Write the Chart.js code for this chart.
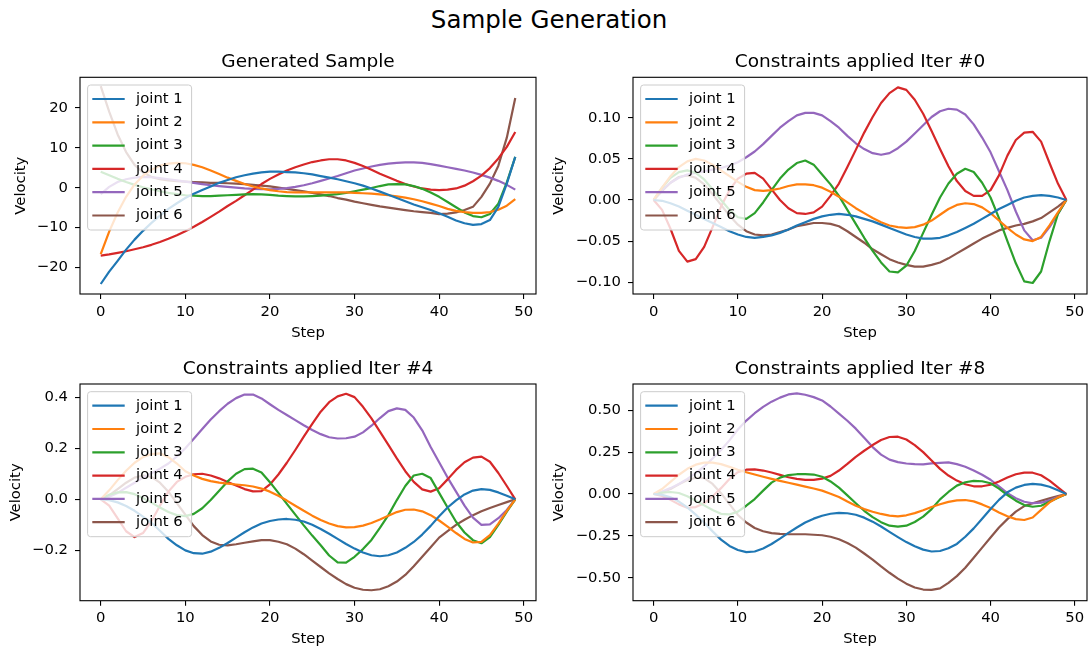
<!DOCTYPE html>
<html>
<head>
<meta charset="utf-8">
<title>Sample Generation</title>
<script src="https://cdn.jsdelivr.net/npm/chart.js@4.4.1/dist/chart.umd.min.js"></script>
<style>
    body { margin: 0; background: #fff; }
    #fig { position: relative; width: 1089px; height: 651px; overflow: hidden; background: #fff; }
    #fig canvas { position: absolute; }
    #suptitle { position: absolute; left: 0; width: 1098px; top: 7.6px; text-align: center;
                font: 24.5px/1 "DejaVu Sans", sans-serif; color: #000; }
</style>
</head>
<body>
<div id="fig">
    <div id="suptitle">Sample Generation</div>
    <canvas id="c1"></canvas>
    <canvas id="c2"></canvas>
    <canvas id="c3"></canvas>
    <canvas id="c4"></canvas>
</div>

<script>
    // x values (step index)
    const steps = [0,1,2,3,4,5,6,7,8,9,10,11,12,13,14,15,16,17,18,19,20,21,22,23,24,
                   25,26,27,28,29,30,31,32,33,34,35,36,37,38,39,40,41,42,43,44,45,46,47,48,49];
    const jointNames = ['joint 1', 'joint 2', 'joint 3', 'joint 4', 'joint 5', 'joint 6'];
    const titles = ['Generated Sample', 'Constraints applied Iter #0',
                    'Constraints applied Iter #4', 'Constraints applied Iter #8'];

    // tick values and labels
    const xTicks = [0, 10, 20, 30, 40, 50];
    const xLabels = ['0', '10', '20', '30', '40', '50'];
    const yTicksGen = [-20, -10, 0, 10, 20];
    const yLabelsGen = ['\u221220', '\u221210', '0', '10', '20'];
    const yTicksIt0 = [-0.10, -0.05, 0, 0.05, 0.10];
    const yLabelsIt0 = ['\u22120.10', '\u22120.05', '0.00', '0.05', '0.10'];
    const yTicksIt4 = [-0.2, 0, 0.2, 0.4];
    const yLabelsIt4 = ['\u22120.2', '0.0', '0.2', '0.4'];
    const yTicksIt8 = [-0.50, -0.25, 0, 0.25, 0.50];
    const yLabelsIt8 = ['\u22120.50', '\u22120.25', '0.00', '0.25', '0.50'];

    // generated sample
    const gen_j1 = [-24.1,-21.0,-18.3,-15.5,-13.0,-10.8,-8.8,-7.0,-5.3,-3.9,-2.6,-1.5,-0.6,0.3,1.2,1.9,2.6,3.1,3.5,3.8,
                    4.0,4.0,3.9,3.8,3.6,3.3,2.9,2.5,2.1,1.6,1.1,0.5,-0.2,-1.0,-1.8,-2.6,-3.4,-4.2,-4.9,-5.6,
                    -6.4,-7.3,-8.2,-8.9,-9.3,-9.1,-8.1,-4.8,1.0,7.7];
    const gen_j2 = [-16.6,-11.0,-6.2,-2.3,0.8,3.0,4.5,5.5,6.0,6.2,6.1,5.7,5.1,4.3,3.4,2.5,1.7,0.9,0.3,-0.2,
                    -0.6,-0.9,-1.1,-1.2,-1.2,-1.2,-1.2,-1.2,-1.2,-1.2,-1.3,-1.4,-1.5,-1.7,-1.9,-2.2,-2.5,-2.9,-3.4,-4.0,
                    -4.6,-5.3,-5.8,-6.1,-6.3,-6.3,-6.1,-5.5,-4.5,-2.9];
    const gen_j3 = [4.0,3.1,2.2,1.4,0.7,0.1,-0.4,-0.9,-1.3,-1.6,-1.9,-2.0,-2.1,-2.1,-2.0,-1.9,-1.8,-1.7,-1.6,-1.7,
                    -1.8,-2.0,-2.1,-2.2,-2.2,-2.1,-2.0,-1.8,-1.6,-1.3,-0.9,-0.5,-0.1,0.4,0.8,0.9,0.8,0.4,-0.3,-1.2,
                    -2.3,-3.6,-4.9,-6.2,-7.1,-7.4,-6.6,-4.0,1.3,7.7];
    const gen_j4 = [-17.0,-16.7,-16.3,-15.9,-15.4,-14.9,-14.3,-13.6,-12.8,-11.9,-10.9,-9.8,-8.6,-7.3,-6.0,-4.6,-3.3,-1.9,-0.5,0.9,
                    2.2,3.3,4.3,5.1,5.8,6.4,6.8,7.1,7.1,6.8,6.2,5.4,4.5,3.5,2.6,1.7,0.9,0.3,-0.2,-0.5,
                    -0.6,-0.5,-0.2,0.5,1.6,3.0,4.9,7.3,10.2,13.9];
    const gen_j5 = [-1.6,0.2,1.4,2.1,2.5,2.7,2.6,2.4,2.1,1.8,1.5,1.2,0.9,0.6,0.4,0.2,0.0,-0.2,-0.3,-0.4,
                    -0.4,-0.3,-0.1,0.2,0.6,1.1,1.7,2.3,2.9,3.6,4.3,4.8,5.3,5.7,6.0,6.2,6.3,6.3,6.2,5.9,
                    5.5,5.1,4.7,4.3,3.8,3.2,2.5,1.7,0.7,-0.5];
    const gen_j6 = [25.4,19.0,13.3,8.9,5.7,3.8,2.7,2.1,1.8,1.6,1.5,1.4,1.3,1.2,1.2,1.1,1.0,0.9,0.7,0.5,
                    0.3,0.0,-0.3,-0.6,-0.9,-1.3,-1.7,-2.1,-2.6,-3.0,-3.5,-3.9,-4.3,-4.7,-5.0,-5.3,-5.6,-5.9,-6.1,-6.3,
                    -6.6,-6.5,-6.2,-5.6,-4.8,-2.3,1.0,5.5,12.5,22.4];

    // constraints applied, iteration 0
    const it0_j1 = [0,-0.001,-0.004,-0.008,-0.013,-0.018,-0.023,-0.028,-0.033,-0.038,-0.042,-0.045,-0.046,-0.045,-0.043,-0.040,-0.036,-0.031,-0.027,-0.023,
                    -0.020,-0.018,-0.017,-0.018,-0.020,-0.023,-0.026,-0.030,-0.034,-0.038,-0.042,-0.045,-0.047,-0.047,-0.046,-0.043,-0.039,-0.034,-0.029,-0.023,
                    -0.017,-0.011,-0.006,-0.001,0.003,0.005,0.006,0.005,0.003,0];
    const it0_j2 = [0,0.015,0.029,0.040,0.047,0.050,0.048,0.043,0.036,0.029,0.022,0.016,0.012,0.011,0.012,0.014,0.017,0.019,0.019,0.018,
                    0.015,0.010,0.004,-0.003,-0.010,-0.016,-0.022,-0.027,-0.031,-0.033,-0.034,-0.033,-0.030,-0.025,-0.018,-0.011,-0.006,-0.004,-0.005,-0.009,
                    -0.016,-0.025,-0.034,-0.042,-0.048,-0.050,-0.045,-0.031,-0.015,0];
    const it0_j3 = [0,0.015,0.027,0.034,0.036,0.033,0.025,0.013,0.000,-0.012,-0.021,-0.023,-0.016,-0.003,0.012,0.026,0.037,0.045,0.048,0.043,
                    0.031,0.019,0.005,-0.012,-0.029,-0.046,-0.062,-0.076,-0.087,-0.088,-0.080,-0.062,-0.040,-0.018,0.003,0.020,0.032,0.038,0.034,0.021,
                    0.003,-0.022,-0.050,-0.077,-0.099,-0.101,-0.087,-0.050,-0.017,0];
    const it0_j4 = [0,-0.012,-0.035,-0.062,-0.075,-0.072,-0.057,-0.033,-0.008,0.012,0.026,0.032,0.033,0.026,0.013,0.000,-0.010,-0.016,-0.017,-0.015,
                    -0.008,0.005,0.020,0.040,0.061,0.082,0.101,0.118,0.130,0.137,0.134,0.122,0.105,0.084,0.062,0.041,0.023,0.011,0.005,0.005,
                    0.012,0.030,0.054,0.073,0.082,0.083,0.071,0.045,0.020,0];
    const it0_j5 = [0,0.012,0.021,0.027,0.031,0.033,0.035,0.037,0.039,0.042,0.046,0.052,0.059,0.068,0.078,0.088,0.096,0.103,0.106,0.106,
                    0.103,0.096,0.088,0.078,0.069,0.062,0.057,0.055,0.057,0.063,0.071,0.081,0.091,0.101,0.108,0.111,0.110,0.104,0.092,0.076,
                    0.058,0.035,0.012,-0.014,-0.037,-0.049,-0.046,-0.033,-0.017,0];
    const it0_j6 = [0,0.011,0.021,0.028,0.030,0.027,0.019,0.007,-0.006,-0.019,-0.030,-0.038,-0.042,-0.043,-0.042,-0.039,-0.036,-0.032,-0.030,-0.028,
                    -0.028,-0.029,-0.032,-0.038,-0.045,-0.052,-0.060,-0.066,-0.072,-0.076,-0.079,-0.081,-0.081,-0.079,-0.076,-0.071,-0.065,-0.059,-0.053,-0.047,
                    -0.042,-0.037,-0.034,-0.031,-0.029,-0.026,-0.022,-0.015,-0.008,0];

    // constraints applied, iteration 4
    const it4_j1 = [0,-0.003,-0.012,-0.026,-0.045,-0.068,-0.092,-0.123,-0.155,-0.180,-0.200,-0.211,-0.213,-0.205,-0.190,-0.171,-0.150,-0.129,-0.110,-0.095,
                    -0.085,-0.079,-0.077,-0.080,-0.087,-0.100,-0.116,-0.135,-0.155,-0.175,-0.193,-0.208,-0.219,-0.223,-0.219,-0.208,-0.190,-0.167,-0.138,-0.104,
                    -0.066,-0.032,-0.004,0.019,0.034,0.040,0.037,0.027,0.014,0];
    const it4_j2 = [0,0.035,0.075,0.112,0.143,0.165,0.177,0.180,0.165,0.140,0.110,0.093,0.080,0.071,0.065,0.061,0.058,0.055,0.050,0.042,
                    0.030,0.014,-0.005,-0.025,-0.045,-0.064,-0.081,-0.095,-0.105,-0.110,-0.109,-0.103,-0.093,-0.079,-0.064,-0.050,-0.041,-0.040,-0.047,-0.062,
                    -0.083,-0.107,-0.132,-0.155,-0.169,-0.167,-0.140,-0.095,-0.045,0];
    const it4_j3 = [0,0.018,0.027,0.028,0.020,0.005,-0.013,-0.032,-0.050,-0.062,-0.066,-0.057,-0.035,-0.003,0.033,0.070,0.100,0.118,0.120,0.105,
                    0.067,0.025,-0.018,-0.060,-0.102,-0.142,-0.180,-0.220,-0.247,-0.248,-0.225,-0.195,-0.159,-0.112,-0.062,-0.003,0.052,0.093,0.100,0.083,
                    0.025,-0.032,-0.088,-0.130,-0.160,-0.172,-0.148,-0.100,-0.048,0];
    const it4_j4 = [0,-0.025,-0.075,-0.125,-0.148,-0.132,-0.085,-0.025,0.030,0.068,0.088,0.098,0.100,0.093,0.082,0.068,0.054,0.040,0.031,0.032,
                    0.058,0.097,0.143,0.193,0.245,0.295,0.343,0.380,0.403,0.413,0.400,0.362,0.317,0.265,0.213,0.160,0.110,0.068,0.039,0.030,
                    0.043,0.078,0.115,0.145,0.163,0.167,0.147,0.103,0.052,0];
    const it4_j5 = [0,0.010,0.025,0.045,0.065,0.085,0.102,0.120,0.140,0.168,0.200,0.237,0.275,0.312,0.345,0.374,0.396,0.410,0.410,0.395,
                    0.372,0.350,0.330,0.310,0.290,0.271,0.255,0.243,0.238,0.239,0.245,0.262,0.288,0.318,0.345,0.356,0.350,0.320,0.270,0.205,
                    0.145,0.085,0.030,-0.025,-0.072,-0.100,-0.098,-0.074,-0.042,0];
    const it4_j6 = [0,0.015,0.040,0.065,0.085,0.093,0.088,0.065,0.030,-0.015,-0.060,-0.105,-0.140,-0.165,-0.178,-0.180,-0.176,-0.170,-0.165,-0.160,
                    -0.160,-0.166,-0.176,-0.193,-0.215,-0.240,-0.265,-0.290,-0.312,-0.332,-0.346,-0.354,-0.356,-0.352,-0.340,-0.322,-0.296,-0.262,-0.225,-0.188,
                    -0.150,-0.125,-0.100,-0.080,-0.062,-0.047,-0.034,-0.022,-0.011,0];

    // constraints applied, iteration 8
    const it8_j1 = [0,-0.005,-0.020,-0.045,-0.080,-0.123,-0.170,-0.223,-0.272,-0.310,-0.334,-0.347,-0.343,-0.325,-0.298,-0.266,-0.232,-0.200,-0.170,-0.147,
                    -0.130,-0.118,-0.113,-0.115,-0.124,-0.141,-0.165,-0.194,-0.226,-0.257,-0.287,-0.312,-0.332,-0.343,-0.340,-0.324,-0.298,-0.255,-0.205,-0.148,
                    -0.090,-0.035,0.010,0.038,0.054,0.060,0.056,0.043,0.022,0];
    const it8_j2 = [0,0.030,0.072,0.115,0.150,0.175,0.187,0.187,0.178,0.162,0.145,0.130,0.116,0.103,0.090,0.078,0.067,0.056,0.044,0.033,
                    0.020,0.002,-0.018,-0.045,-0.070,-0.090,-0.106,-0.119,-0.129,-0.134,-0.127,-0.114,-0.097,-0.078,-0.061,-0.047,-0.038,-0.036,-0.044,-0.062,
                    -0.084,-0.110,-0.133,-0.150,-0.155,-0.140,-0.095,-0.050,-0.020,0];
    const it8_j3 = [0,0.008,0.012,0.006,-0.014,-0.040,-0.068,-0.095,-0.118,-0.122,-0.105,-0.070,-0.030,0.020,0.068,0.098,0.113,0.118,0.118,0.116,
                    0.103,0.075,0.038,-0.008,-0.055,-0.100,-0.138,-0.168,-0.189,-0.195,-0.189,-0.167,-0.135,-0.090,-0.032,0.012,0.050,0.070,0.078,0.076,
                    0.064,0.032,-0.006,-0.040,-0.066,-0.076,-0.070,-0.046,-0.022,0];
    const it8_j4 = [0,-0.012,-0.035,-0.062,-0.082,-0.078,-0.055,-0.015,0.035,0.090,0.130,0.145,0.147,0.140,0.128,0.114,0.100,0.090,0.084,0.084,
                    0.092,0.108,0.140,0.180,0.222,0.258,0.292,0.322,0.340,0.342,0.325,0.292,0.250,0.200,0.150,0.110,0.080,0.058,0.046,0.046,
                    0.055,0.075,0.098,0.118,0.128,0.127,0.112,0.080,0.040,0];
    const it8_j5 = [0,0.015,0.035,0.060,0.090,0.125,0.165,0.212,0.262,0.320,0.385,0.438,0.482,0.520,0.551,0.575,0.594,0.600,0.592,0.578,
                    0.558,0.522,0.480,0.437,0.390,0.335,0.280,0.235,0.205,0.190,0.182,0.178,0.177,0.183,0.186,0.189,0.178,0.163,0.140,0.115,
                    0.085,0.045,0.005,-0.025,-0.046,-0.055,-0.052,-0.038,-0.018,0];
    const it8_j6 = [0,0.010,0.030,0.058,0.083,0.097,0.095,0.060,0.005,-0.060,-0.125,-0.170,-0.203,-0.222,-0.233,-0.238,-0.240,-0.240,-0.240,-0.243,
                    -0.246,-0.255,-0.270,-0.292,-0.320,-0.355,-0.392,-0.432,-0.470,-0.505,-0.535,-0.558,-0.570,-0.572,-0.563,-0.530,-0.490,-0.440,-0.380,-0.320,
                    -0.260,-0.200,-0.150,-0.105,-0.072,-0.055,-0.040,-0.026,-0.013,0];

    const colors = ['#1f77b4', '#ff7f0e', '#2ca02c', '#d62728', '#9467bd', '#8c564b'];
    const FONT = 'DejaVu Sans';
    const tickSize = 14.8;

    Chart.defaults.font.family = FONT;
    Chart.defaults.color = '#000';

    // panel layout: canvas box [left, top, width, height], axes box [left, top, right, bottom]
    const panels = [
        { id: 'c1', box: [0, 30, 545, 320], axes: [80, 77.3, 536, 294], velX: 21, stepY: 333,
          series: [gen_j1, gen_j2, gen_j3, gen_j4, gen_j5, gen_j6], yMin: -26.6, yMax: 27.6,
          yTicks: yTicksGen, yLabels: yLabelsGen, title: titles[0] },
        { id: 'c2', box: [545, 30, 544, 320], axes: [633, 77.3, 1087, 294], velX: 559, stepY: 333,
          series: [it0_j1, it0_j2, it0_j3, it0_j4, it0_j5, it0_j6], yMin: -0.1144, yMax: 0.1493,
          yTicks: yTicksIt0, yLabels: yLabelsIt0, title: titles[1] },
        { id: 'c3', box: [0, 336, 545, 315], axes: [80, 384, 536, 600.7], velX: 16.5, stepY: 639,
          series: [it4_j1, it4_j2, it4_j3, it4_j4, it4_j5, it4_j6], yMin: -0.3969, yMax: 0.4513,
          yTicks: yTicksIt4, yLabels: yLabelsIt4, title: titles[2] },
        { id: 'c4', box: [545, 336, 544, 315], axes: [633, 384, 1087, 600.7], velX: 559, stepY: 639,
          series: [it8_j1, it8_j2, it8_j3, it8_j4, it8_j5, it8_j6], yMin: -0.6366, yMax: 0.6563,
          yTicks: yTicksIt8, yLabels: yLabelsIt8, title: titles[3] }
    ];

    // frame around the axes + legend box inside the upper left corner
    const axesDecor = {
        id: 'axesDecor',
        afterDraw(chart) {
            const ctx = chart.ctx, a = chart.chartArea;
            ctx.save();
            ctx.strokeStyle = '#000';
            ctx.lineWidth = 1.1;
            ctx.strokeRect(a.left, a.top, a.right - a.left, a.bottom - a.top);

            const x0 = a.left + 7.6, y0 = a.top + 7.7, w = 104, h = 145;
            ctx.beginPath();
            if (ctx.roundRect) ctx.roundRect(x0, y0, w, h, 3); else ctx.rect(x0, y0, w, h);
            ctx.fillStyle = 'rgba(255,255,255,0.8)';
            ctx.fill();
            ctx.strokeStyle = '#cccccc';
            ctx.lineWidth = 1;
            ctx.stroke();

            ctx.font = tickSize + 'px "' + FONT + '"';
            ctx.textBaseline = 'middle';
            ctx.textAlign = 'left';
            chart.data.datasets.forEach((ds, i) => {
                const y = y0 + 14 + i * 23.3;
                ctx.beginPath();
                ctx.moveTo(x0 + 5.8, y);
                ctx.lineTo(x0 + 36, y);
                ctx.strokeStyle = ds.borderColor;
                ctx.lineWidth = 2.2;
                ctx.lineCap = 'square';
                ctx.stroke();
                ctx.fillStyle = '#000';
                ctx.fillText(ds.label, x0 + 48.5, y);
            });
            ctx.restore();
        }
    };

    function make_panel(p) {
        const canvas = document.getElementById(p.id);
        const [cx, cy, cw, ch] = p.box;
        const [al, at, ar, ab] = p.axes;
        canvas.width = cw;
        canvas.height = ch;
        canvas.style.left = cx + 'px';
        canvas.style.top = cy + 'px';

        const titleSize = 18.5, titlePadBottom = 4.1;
        const titleBlock = titleSize * 1.2 + titlePadBottom;
        const labelHalf = tickSize * 1.2 / 2;

        const datasets = p.series.map((vals, i) => ({
            label: jointNames[i],
            data: steps.map((s, k) => ({ x: s, y: vals[k] })),
            borderColor: colors[i],
            borderWidth: 2.2,
            borderJoinStyle: 'round',
            pointRadius: 0,
            fill: false,
            tension: 0
        }));

        new Chart(canvas, {
            type: 'line',
            data: { datasets: datasets },
            options: {
                responsive: false,
                animation: false,
                devicePixelRatio: 1,
                layout: {
                    padding: { left: 0, top: at - cy - titleBlock, right: cx + cw - ar, bottom: 0 }
                },
                plugins: {
                    legend: { display: false },
                    tooltip: { enabled: false },
                    title: {
                        display: true,
                        text: p.title,
                        fullSize: false,
                        color: '#000',
                        font: { size: titleSize, weight: 'normal' },
                        padding: { top: 0, bottom: titlePadBottom }
                    }
                },
                scales: {
                    x: {
                        type: 'linear',
                        min: -2.45,
                        max: 51.45,
                        afterBuildTicks: (scale) => { scale.ticks = xTicks.map(v => ({ value: v })); },
                        afterFit: (scale) => { scale.height = cy + ch - ab; },
                        ticks: {
                            autoSkip: false, maxRotation: 0, minRotation: 0, padding: 4,
                            font: { size: tickSize }, color: '#000',
                            callback: (value, index) => xLabels[index]
                        },
                        grid: { display: true, drawOnChartArea: false, drawTicks: true, tickLength: 5, color: '#000', lineWidth: 1.1 },
                        border: { display: false },
                        title: {
                            display: true, text: 'Step', color: '#000',
                            font: { size: tickSize },
                            padding: { top: 0, bottom: cy + ch - p.stepY - labelHalf }
                        }
                    },
                    y: {
                        type: 'linear',
                        min: p.yMin,
                        max: p.yMax,
                        afterBuildTicks: (scale) => { scale.ticks = p.yTicks.map(v => ({ value: v })); },
                        afterFit: (scale) => { scale.width = al - cx; },
                        ticks: {
                            autoSkip: false, padding: 7,
                            font: { size: tickSize }, color: '#000',
                            callback: (value, index) => p.yLabels[index]
                        },
                        grid: { display: true, drawOnChartArea: false, drawTicks: true, tickLength: 5, color: '#000', lineWidth: 1.1 },
                        border: { display: false },
                        title: {
                            display: true, text: 'Velocity', color: '#000',
                            font: { size: tickSize },
                            padding: { top: p.velX - cx - labelHalf, bottom: 0 }
                        }
                    }
                }
            },
            plugins: [axesDecor]
        });
    }

    panels.forEach(make_panel);
</script>
</body>
</html>
